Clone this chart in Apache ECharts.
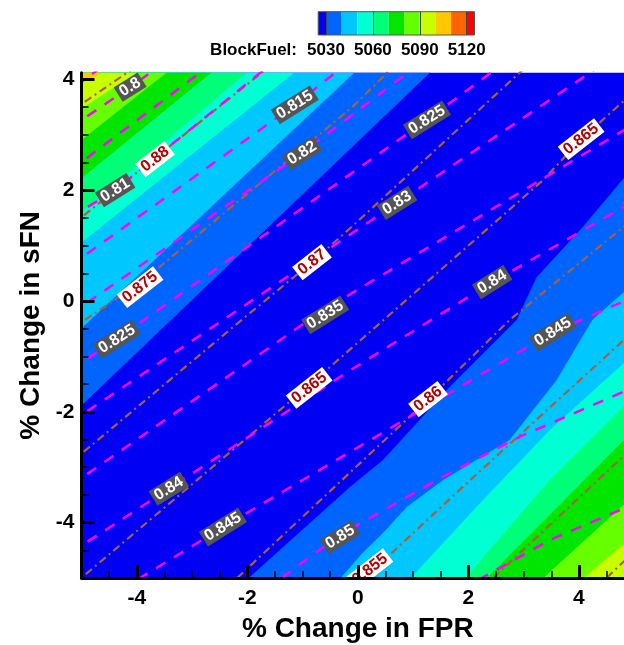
<!DOCTYPE html>
<html>
<head>
<meta charset="utf-8">
<script src="https://cdn.jsdelivr.net/npm/echarts@6/dist/echarts.min.js"></script>
<style>html,body{margin:0;padding:0;background:#fff;}#c{width:624px;height:645px;}</style>
</head>
<body>
<div id="c"></div>
<script>
// ---------------- axis ranges & ticks ----------------
const X_MIN = -5, X_MAX = 5, Y_MIN = -5, Y_MAX = 4.12;
const xTickLabels = [-4, -2, 0, 2, 4];
const yTickLabels = [-4, -2, 0, 2, 4];
const MINOR_STEP = 0.5;

// ---------------- BlockFuel contour levels ----------------
const levels = [5030, 5040, 5050, 5060, 5070, 5080, 5090, 5100, 5110, 5120];
const colorbarEnds = [5025, 5125];
const colorbarLabels = [5030, 5060, 5090, 5120];
const bandColors = ['#0000F5', '#0064FF', '#00C8FF', '#00FFD2', '#00FF78', '#00E600',
                    '#66FF00', '#C8FF00', '#FFC800', '#FF6400', '#FF0000'];

// level boundaries on the upper-left side (x,y data points, from left edge to top edge)
const ul5030 = [[-5, -1.88], [1.30, 4.12]];
const ul5040 = [[-5, -0.49], [-0.07, 4.12]];
const ul5050 = [[-5, 1.06], [-1.16, 4.12]];
const ul5060 = [[-5, 1.61], [-2.02, 4.12]];
const ul5070 = [[-5, 2.22], [-2.66, 4.12]];
const ul5080 = [[-5, 2.91], [-3.47, 4.12]];
const ul5090 = [[-5, 3.48], [-4.01, 4.12]];
const ul5100 = [[-5, 3.93], [-4.63, 4.12]];

// level boundaries on the lower-right side (from right edge to bottom edge)
const lr5030 = [[5.11, 2.72], [4.82, 2.22], [4.07, 1.33], [3.24, 0.43], [2.88, -0.34], [1.67, -1.55],
                [0.46, -2.87], [-0.14, -3.36], [-1.97, -5.00], [-2.13, -5.22]];
const lr5040 = [[5.11, 0.56], [4.82, 0.16], [4.25, -0.34], [3.60, -1.43], [2.75, -2.51], [1.54, -3.24],
                [0.89, -3.72], [0.46, -4.19], [0.09, -4.55], [-0.50, -5.22]];
const lr5050 = [[5.11, -0.79], [4.82, -1.12], [3.48, -2.33], [2.27, -3.59], [0.76, -5.22]];
const lr5060 = [[5.11, -1.60], [4.82, -1.90], [3.48, -3.23], [1.76, -5.22]];
const lr5070 = [[5.11, -2.24], [4.82, -2.51], [2.12, -5.22]];
const lr5080 = [[5.11, -3.41], [3.12, -5.22]];
const lr5090 = [[5.11, -4.13], [3.84, -5.22]];

// ---------------- brown dash-dot contour lines (red labels) ----------------
const brown885 = [[-5.21, 3.41], [-4.03, 4.22]];
const brown880 = [[-5.21, 1.34], [-3.67, 2.58], [-1.59, 4.24]];
const brown875 = [[-5.21, -0.52], [-3.94, 0.32], [-2.31, 1.68], [-0.11, 3.49], [0.58, 4.17]];
const brown870 = [[-5.21, -2.93], [-2.10, -0.34], [-0.83, 0.70], [-0.11, 1.34], [3.08, 4.26]];
const brown865 = [[-5.17, -5.14], [-0.88, -1.52], [3.35, 2.18], [4.04, 2.92], [5.47, 4.20]];
const brown860 = [[-2.42, -5.22], [1.27, -1.78], [2.75, -0.34], [5.29, 1.73]];
const brown855 = [[-0.11, -5.22], [1.85, -3.40], [5.29, -0.27]];
const brown850 = [[2.21, -5.22], [5.29, -2.35]];
const brown845 = [[4.27, -5.22], [5.29, -4.24]];

// ---------------- magenta dashed contour lines (grey labels) ----------------
const mag795 = [[-5.12, 3.88], [-4.66, 4.20]];
const mag800 = [[-5.21, 3.12], [-4.12, 3.86], [-3.58, 4.24]];
const mag805 = [[-5.21, 2.35], [-2.67, 4.26]];
const mag810 = [[-5.21, 1.50], [-4.39, 2.00], [-1.59, 4.26]];
const mag815 = [[-5.21, 0.63], [-1.14, 3.54], [-0.23, 4.26]];
const mag820 = [[-5.21, -0.25], [-1.01, 2.67], [1.09, 4.26]];
const mag825 = [[-5.21, -1.25], [-4.36, -0.69], [1.25, 3.27], [2.57, 4.24]];
const mag830 = [[-5.21, -2.20], [0.71, 1.77], [4.38, 4.24]];
const mag835 = [[-5.21, -3.34], [-0.68, -0.20], [5.29, 3.37]];
const mag840 = [[-5.21, -4.55], [-3.42, -3.39], [-0.14, -1.25], [2.43, 0.34], [5.29, 1.97]];
const mag845 = [[-4.30, -5.22], [-2.44, -4.08], [3.53, -0.56], [5.29, 0.20]];
const mag850 = [[-1.68, -5.22], [-0.32, -4.22], [1.67, -3.10], [2.93, -2.45], [5.29, -1.43]];
const mag855 = [[1.85, -5.22], [3.48, -4.31], [5.29, -3.54]];

// ---------------- contour labels ----------------
const greyLabelText = ['0.8', '0.81', '0.815', '0.82', '0.825', '0.83', '0.825', '0.835', '0.84', '0.84', '0.845', '0.845', '0.85'];
const greyLabelPos = [[-4.12, 3.86], [-4.39, 2.00], [-1.14, 3.54], [-1.01, 2.67], [1.25, 3.27], [0.71, 1.77],
                      [-4.36, -0.69], [-0.59, -0.25], [2.43, 0.34], [-3.42, -3.39], [3.53, -0.56], [-2.44, -4.08], [-0.32, -4.26]];
const redLabelText = ['0.88', '0.875', '0.87', '0.865', '0.865', '0.86', '0.855'];
const redLabelPos = [[-3.67, 2.56], [-3.94, 0.25], [-0.83, 0.70], [4.04, 2.92], [-0.88, -1.57], [1.27, -1.77], [0.22, -4.84]];

// ================= build =================
const FONT = '"Liberation Sans", Arial, sans-serif';
const upperBounds = [ul5030, ul5040, ul5050, ul5060, ul5070, ul5080, ul5090, ul5100];
const lowerBounds = [lr5030, lr5040, lr5050, lr5060, lr5070, lr5080, lr5090];
const bandPolys = [];
upperBounds.forEach((b, k) => {
  const pts = [[X_MIN - 1, b[0][1]]].concat(b, [[b[b.length - 1][0], Y_MAX + 1], [X_MIN - 1, Y_MAX + 1]]);
  bandPolys.push({ pts, color: bandColors[k + 1] });
});
lowerBounds.forEach((b, k) => {
  const pts = [[X_MAX + 1, b[0][1]]].concat(b, [[b[b.length - 1][0], Y_MIN - 1], [X_MAX + 1, Y_MIN - 1]]);
  bandPolys.push({ pts, color: bandColors[k + 1] });
});

const brownLines = [brown885, brown880, brown875, brown870, brown865, brown860, brown855, brown850, brown845];
const magentaLines = [mag795, mag800, mag805, mag810, mag815, mag820, mag825, mag830, mag835, mag840, mag845, mag850, mag855];

function ticksBetween(a, b, step) {
  const out = [];
  for (let v = Math.ceil(a / step) * step; v <= b + 1e-9; v += step) out.push(+v.toFixed(3));
  return out;
}
const xMinor = ticksBetween(X_MIN, X_MAX, MINOR_STEP);
const yMinor = ticksBetween(Y_MIN, Y_MAX, MINOR_STEP);

const cbLows = [colorbarEnds[0]].concat(levels);
const cbHighs = levels.concat([colorbarEnds[1]]);

const series = [];
series.push({
  type: 'custom', name: 'bands', coordinateSystem: 'cartesian2d', xAxisIndex: 0, yAxisIndex: 0,
  clip: true, silent: true, z: 1,
  data: bandPolys.map((b, i) => [i, 0]),
  renderItem: (params, api) => {
    const b = bandPolys[params.dataIndex];
    return { type: 'polygon', shape: { points: b.pts.map(p => api.coord(p)) },
             style: { fill: b.color, stroke: b.color, lineWidth: 0.6 } };
  }
});
brownLines.forEach(l => series.push({
  type: 'line', xAxisIndex: 0, yAxisIndex: 0, data: l, showSymbol: false, symbol: 'none',
  silent: true, clip: true, z: 3,
  lineStyle: { color: '#A8603F', width: 2.2, type: [8, 4, 2, 4] }
}));
magentaLines.forEach(l => series.push({
  type: 'line', xAxisIndex: 0, yAxisIndex: 0, data: l, showSymbol: false, symbol: 'none',
  silent: true, clip: true, z: 4,
  lineStyle: { color: '#FF00FF', width: 2.5, type: [11, 10] }
}));
function labelSeries(pos, texts, fill, bg, angle) {
  return {
    type: 'custom', coordinateSystem: 'cartesian2d', xAxisIndex: 0, yAxisIndex: 0,
    clip: true, silent: true, z: 6, data: pos,
    renderItem: (params, api) => {
      const i = params.dataIndex;
      const p = api.coord(pos[i]);
      return { type: 'text', x: p[0], y: p[1], rotation: angle * Math.PI / 180,
        style: { text: texts[i], fill: fill, backgroundColor: bg, padding: [1, 3, 0, 3],
                 font: 'bold 16px ' + FONT, align: 'center', verticalAlign: 'middle' } };
    }
  };
}
series.push(labelSeries(greyLabelPos, greyLabelText, '#FFFFFF', '#555555', 32));
series.push(labelSeries(redLabelPos, redLabelText, '#B00000', '#FFFFFF', 38));
series.push({
  type: 'custom', name: 'colorbar', coordinateSystem: 'cartesian2d', xAxisIndex: 2, yAxisIndex: 2,
  silent: true, z: 2,
  data: cbLows.map((lo, i) => [lo, cbHighs[i]]),
  renderItem: (params, api) => {
    const i = params.dataIndex;
    const a = api.coord([cbLows[i], 1]);
    const b = api.coord([cbHighs[i], 0]);
    return { type: 'rect', shape: { x: a[0], y: a[1], width: b[0] - a[0], height: b[1] - a[1] },
             style: { fill: bandColors[i] } };
  }
});

const tickFont = { fontSize: 21, fontWeight: 'bold', color: '#000', fontFamily: FONT };
const nameFont = { fontSize: 28, fontWeight: 'bold', color: '#000', fontFamily: FONT };

const option = {
  animation: false,
  backgroundColor: '#ffffff',
  textStyle: { fontFamily: FONT },
  grid: [
    { left: 81.5, top: 72.7, width: 552.7, height: 505.3, show: true, backgroundColor: bandColors[0], borderWidth: 0, z: 0,
      containLabel: false, outerBoundsMode: 'none' },
    { left: 318.2, top: 11.7, width: 156.3, height: 23.3, show: true, backgroundColor: 'transparent', borderColor: '#555', borderWidth: 1, z: 5,
      containLabel: false, outerBoundsMode: 'none' }
  ],
  xAxis: [
    { type: 'value', gridIndex: 0, min: X_MIN, max: X_MAX, position: 'bottom', z: 10,
      axisLine: { show: true, onZero: false, lineStyle: { color: '#000', width: 3 } },
      axisTick: { show: true, inside: true, length: 7, customValues: xMinor, lineStyle: { color: '#000', width: 1.5 } },
      axisLabel: { show: false }, splitLine: { show: false } },
    { type: 'value', gridIndex: 0, min: X_MIN, max: X_MAX, position: 'bottom', z: 11,
      axisLine: { show: false, onZero: false },
      axisTick: { show: true, inside: true, length: 13, customValues: xTickLabels, lineStyle: { color: '#000', width: 3 } },
      axisLabel: Object.assign({ show: true, customValues: xTickLabels, margin: 10 }, tickFont),
      splitLine: { show: false },
      name: '% Change in FPR', nameLocation: 'middle', nameGap: 37, nameTextStyle: nameFont },
    { type: 'value', gridIndex: 1, min: colorbarEnds[0], max: colorbarEnds[1], position: 'bottom', z: 6,
      axisLine: { show: false },
      axisTick: { show: true, inside: true, length: 23.3, customValues: colorbarLabels, lineStyle: { color: '#444', width: 1 } },
      axisLabel: { show: true, customValues: colorbarLabels, margin: 7, fontSize: 17, fontWeight: 'bold', color: '#000', fontFamily: FONT,
                   formatter: v => String(v) },
      splitLine: { show: false } }
  ],
  yAxis: [
    { type: 'value', gridIndex: 0, min: Y_MIN, max: Y_MAX, position: 'left', z: 10,
      axisLine: { show: true, onZero: false, lineStyle: { color: '#000', width: 3 } },
      axisTick: { show: true, inside: true, length: 7, customValues: yMinor, lineStyle: { color: '#000', width: 1.5 } },
      axisLabel: { show: false }, splitLine: { show: false } },
    { type: 'value', gridIndex: 0, min: Y_MIN, max: Y_MAX, position: 'left', z: 11,
      axisLine: { show: false, onZero: false },
      axisTick: { show: true, inside: true, length: 13, customValues: yTickLabels, lineStyle: { color: '#000', width: 3 } },
      axisLabel: Object.assign({ show: true, customValues: yTickLabels, margin: 7 }, tickFont),
      splitLine: { show: false },
      name: '% Change in sFN', nameLocation: 'middle', nameGap: 31, nameTextStyle: nameFont },
    { type: 'value', gridIndex: 1, min: 0, max: 1, show: false }
  ],
  graphic: [
    { type: 'text', x: 297, y: 42, z: 10,
      style: { text: 'BlockFuel:', font: 'bold 17px ' + FONT, fill: '#000', align: 'right', verticalAlign: 'top' } }
  ],
  series: series
};

const chart = echarts.init(document.getElementById('c'), null, { renderer: 'canvas', width: 624, height: 645 });
chart.setOption(option);
</script>
</body>
</html>
